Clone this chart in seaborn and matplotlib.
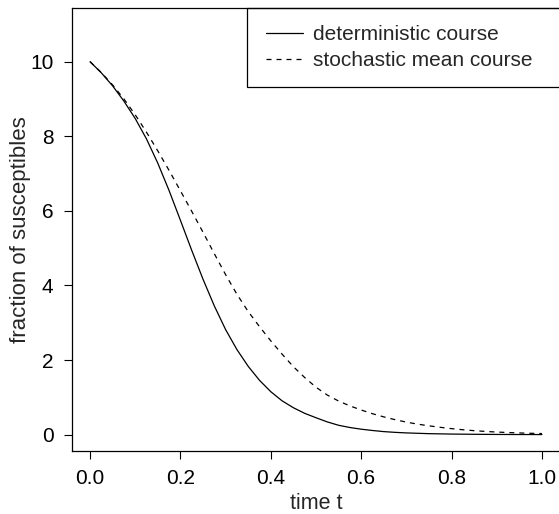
import numpy as np
import pandas as pd
import matplotlib
matplotlib.use("Agg")
import matplotlib.pyplot as plt
import seaborn as sns
from matplotlib.lines import Line2D
from matplotlib.patches import Rectangle

# time grid
t_det = [0, 0.025, 0.05, 0.075, 0.1, 0.125, 0.15, 0.175, 0.2, 0.225, 0.25,
         0.275, 0.3, 0.325, 0.35, 0.375, 0.4, 0.425, 0.45, 0.475, 0.5, 0.525,
         0.55, 0.575, 0.6, 0.625, 0.65, 0.675, 0.7, 0.75, 0.8, 0.85, 0.9,
         0.95, 1.0]
# deterministic course
s_det = [10.0, 9.70, 9.35, 8.94, 8.475, 7.925, 7.275, 6.54, 5.745, 4.94, 4.165,
         3.45, 2.815, 2.28, 1.83, 1.455, 1.15, 0.905, 0.72, 0.57, 0.452, 0.34,
         0.25, 0.19, 0.145, 0.11, 0.08, 0.06, 0.045, 0.025, 0.014, 0.008, 0.004,
         0.002, 0.001]

t_sto = [0, 0.025, 0.05, 0.075, 0.1, 0.125, 0.15, 0.175, 0.2, 0.225, 0.25,
         0.275, 0.3, 0.325, 0.35, 0.375, 0.4, 0.425, 0.45, 0.475, 0.5, 0.525,
         0.55, 0.575, 0.6, 0.625, 0.65, 0.675, 0.7, 0.725, 0.75, 0.775, 0.8,
         0.825, 0.85, 0.875, 0.9, 0.925, 0.95, 0.975, 1.0]
# stochastic mean course
s_sto = [10.0, 9.706, 9.375, 9.0, 8.575, 8.106, 7.606, 7.081, 6.537, 5.987,
         5.425, 4.85, 4.288, 3.763, 3.30, 2.894, 2.513, 2.157, 1.82, 1.53,
         1.27, 1.06, 0.90, 0.77, 0.66, 0.56, 0.475, 0.40, 0.335, 0.28, 0.235,
         0.195, 0.16, 0.13, 0.105, 0.085, 0.068, 0.055, 0.044, 0.035, 0.028]

series_names = ["deterministic course", "stochastic mean course"]
x_ticks = [0.0, 0.2, 0.4, 0.6, 0.8, 1.0]
y_ticks = [0, 2, 4, 6, 8, 10]

df = pd.concat([
    pd.DataFrame({"t": t_det, "S": s_det, "course": series_names[0]}),
    pd.DataFrame({"t": t_sto, "S": s_sto, "course": series_names[1]}),
])

sns.set_style("white")
plt.rcParams["font.family"] = ["Liberation Sans", "DejaVu Sans"]

W, H = 559, 514
fig = plt.figure(figsize=(W / 100, H / 100), dpi=100)
L, R, B, T = 72, 560, 451, 8
ax = fig.add_axes([L / W, (H - B) / H, (R - L) / W, (B - T) / H])

lw = 0.9
dash = (4, 4)
sns.lineplot(data=df, x="t", y="S", style="course", color="black",
             dashes={series_names[0]: "", series_names[1]: dash},
             linewidth=lw, ax=ax, legend=False, sort=False)

ax.set_xlim(-0.04, 1.04)
ax.set_ylim(-0.44, 11.44)
ax.set_xticks(x_ticks)
ax.set_xticklabels([f"{v:.1f}" for v in x_ticks])
ax.set_yticks(y_ticks)
ax.set_yticklabels([str(v) for v in y_ticks])
ax.tick_params(direction="out", length=5.8, width=0.8, color="black",
               labelsize=15, left=True, bottom=True, labelcolor="black")
ax.tick_params(axis="x", pad=7)
ax.tick_params(axis="y", pad=7.5)
for s in ax.spines.values():
    s.set_color("black")
    s.set_linewidth(0.9)

ax.set_xlabel("time t", fontsize=15.5)
ax.set_ylabel("fraction of susceptibles", fontsize=16)
ax.xaxis.set_label_coords(0.5, (B - 493) / (B - T))
ax.yaxis.set_label_coords((31 - L) / (R - L), 0.5)

handles = [Line2D([], [], color="black", lw=lw),
           Line2D([], [], color="black", lw=lw, dashes=dash)]
leg = ax.legend(handles, series_names, loc="upper left",
                bbox_to_anchor=((266 - L) / (R - L), (B - 25) / (B - T)),
                borderaxespad=0, borderpad=0, fontsize=15, frameon=False,
                handlelength=1.78, handletextpad=0.48, labelspacing=0.33)
ax.add_patch(Rectangle(((247 - L) / (R - L), (B - 87) / (B - T)),
                       (R - 247) / (R - L), (87 - T) / (B - T),
                       transform=ax.transAxes, fill=False, edgecolor="black",
                       linewidth=0.9, clip_on=False, zorder=5))

fig.savefig("out.png", dpi=100)
